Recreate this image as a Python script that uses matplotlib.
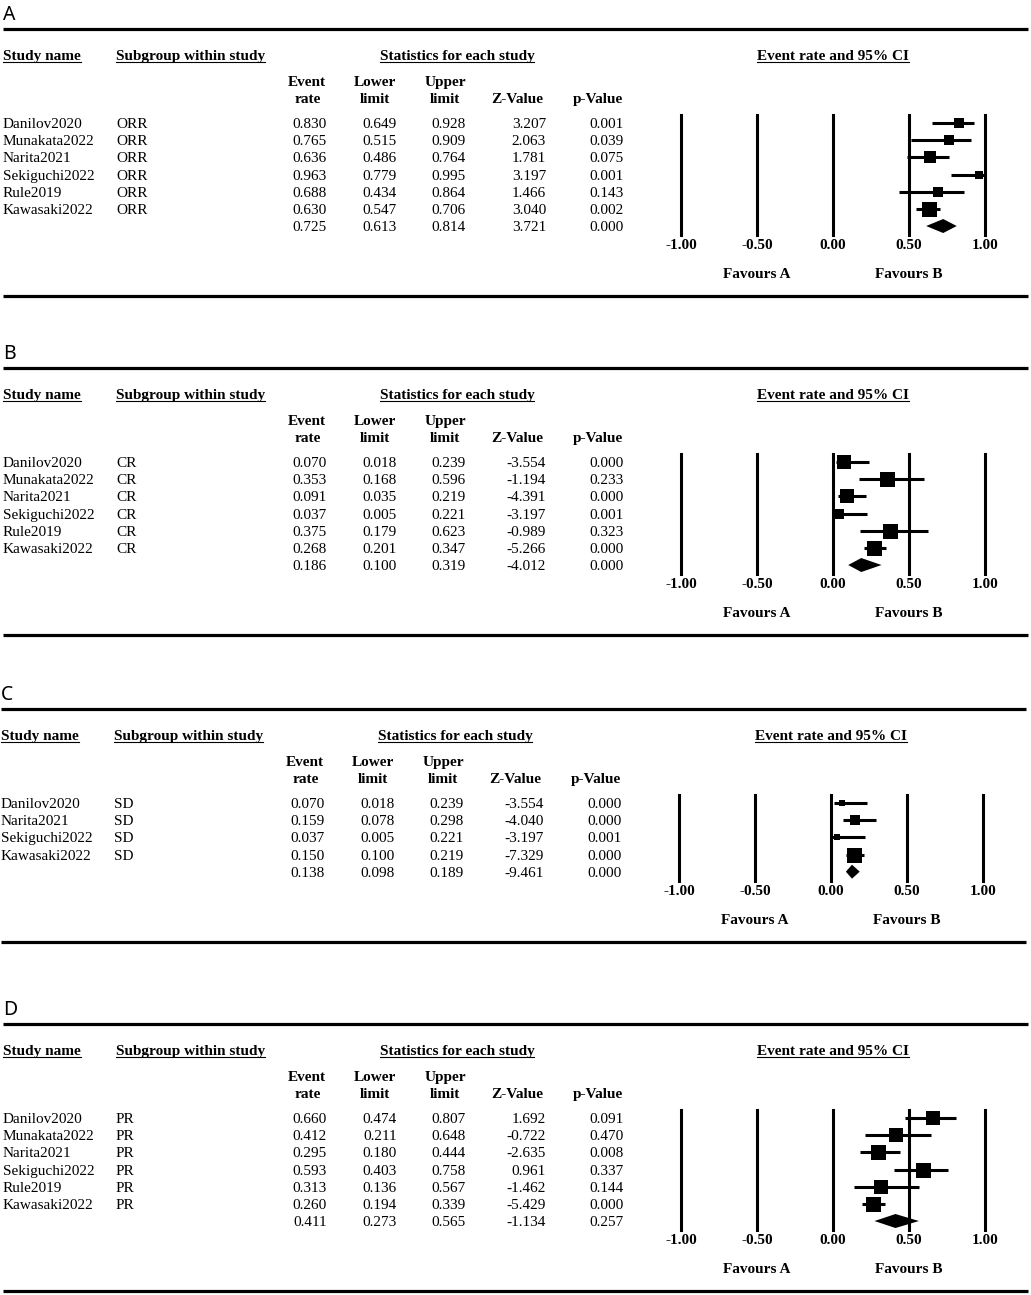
import matplotlib
matplotlib.use("Agg")
import matplotlib.pyplot as plt
import numpy as np

W, H = 1031, 1295

# ---- data --------------------------------------------------------------
panel_letters = ["A", "B", "C", "D"]
outcomes = ["ORR", "CR", "SD", "PR"]

studies_A = ["Danilov2020", "Munakata2022", "Narita2021", "Sekiguchi2022", "Rule2019", "Kawasaki2022"]
rate_A = [0.830, 0.765, 0.636, 0.963, 0.688, 0.630, 0.725]
lower_A = [0.649, 0.515, 0.486, 0.779, 0.434, 0.547, 0.613]
upper_A = [0.928, 0.909, 0.764, 0.995, 0.864, 0.706, 0.814]
z_A = [3.207, 2.063, 1.781, 3.197, 1.466, 3.040, 3.721]
p_A = [0.001, 0.039, 0.075, 0.001, 0.143, 0.002, 0.000]
weight_A = [13.5, 13.5, 22.7, 6.6, 13.5, 30.3]

studies_B = ["Danilov2020", "Munakata2022", "Narita2021", "Sekiguchi2022", "Rule2019", "Kawasaki2022"]
rate_B = [0.070, 0.353, 0.091, 0.037, 0.375, 0.268, 0.186]
lower_B = [0.018, 0.168, 0.035, 0.005, 0.179, 0.201, 0.100]
upper_B = [0.239, 0.596, 0.219, 0.221, 0.623, 0.347, 0.319]
z_B = [-3.554, -1.194, -4.391, -3.197, -0.989, -5.266, -4.012]
p_B = [0.000, 0.233, 0.000, 0.001, 0.323, 0.000, 0.000]
weight_B = [16.4, 19.3, 16.4, 9.2, 19.3, 19.3]

studies_C = ["Danilov2020", "Narita2021", "Sekiguchi2022", "Kawasaki2022"]
rate_C = [0.070, 0.159, 0.037, 0.150, 0.138]
lower_C = [0.018, 0.078, 0.005, 0.100, 0.098]
upper_C = [0.239, 0.298, 0.221, 0.219, 0.189]
z_C = [-3.554, -4.040, -3.197, -7.329, -9.461]
p_C = [0.000, 0.000, 0.001, 0.000, 0.000]
weight_C = [7.6, 24.8, 7.6, 59.9]

studies_D = ["Danilov2020", "Munakata2022", "Narita2021", "Sekiguchi2022", "Rule2019", "Kawasaki2022"]
rate_D = [0.660, 0.412, 0.295, 0.593, 0.313, 0.260, 0.411]
lower_D = [0.474, 0.211, 0.180, 0.403, 0.136, 0.194, 0.273]
upper_D = [0.807, 0.648, 0.444, 0.758, 0.567, 0.339, 0.565]
z_D = [1.692, -0.722, -2.635, 0.961, -1.462, -5.429, -1.134]
p_D = [0.091, 0.470, 0.008, 0.337, 0.144, 0.000, 0.257]
weight_D = [15.3, 15.3, 18.0, 18.0, 15.3, 18.0]

xticks = [-1.0, -0.5, 0.0, 0.5, 1.0]
xtick_labels = ["-1.00", "-0.50", "0.00", "0.50", "1.00"]

panels = [
    (studies_A, rate_A, lower_A, upper_A, z_A, p_A, weight_A),
    (studies_B, rate_B, lower_B, upper_B, z_B, p_B, weight_B),
    (studies_C, rate_C, lower_C, upper_C, z_C, p_C, weight_C),
    (studies_D, rate_D, lower_D, upper_D, z_D, p_D, weight_D),
]

# layout (pixels)
first_row = [123, 462, 803, 1118]
shift = [0, 0, -2, 0]
dy = 17.17
SERIF = "Liberation Serif"

fig = plt.figure(figsize=(W / 100, H / 100), dpi=100)
bg = fig.add_axes([0, 0, 1, 1])
bg.set_xlim(0, W)
bg.set_ylim(H, 0)
bg.axis("off")

underlined = []


def txt(x, y, s, ha="left", bold=False):
    # y is the visual centre of digits/capitals
    return bg.text(x, y + 5, s, ha=ha, va="baseline", fontsize=11,
                   fontweight="bold" if bold else "normal", family=SERIF)


for k, (studies, rate, lo, hi, z, p, w) in enumerate(panels):
    y0 = first_row[k]
    dx = shift[k]
    n = len(rate)
    ylast = y0 + (n - 1) * dy

    # panel letter and rules
    bg.text(3 + dx, y0 - 110 + 7, panel_letters[k], ha="left", va="baseline",
            fontsize=14, family="Noto Sans")
    bg.plot([3 + dx, 1028 + dx], [y0 - 94, y0 - 94], color="black", lw=2.3, solid_capstyle="butt")
    bg.plot([3 + dx, 1028 + dx], [ylast + 70, ylast + 70], color="black", lw=2.3, solid_capstyle="butt")

    # headers
    yh = y0 - 68
    underlined.append(txt(3 + dx, yh, "Study name", bold=True))
    underlined.append(txt(116 + dx, yh, "Subgroup within study", bold=True))
    underlined.append(txt(457 + dx, yh, "Statistics for each study", ha="center", bold=True))
    underlined.append(txt(833 + dx, yh, "Event rate and 95% CI", ha="center", bold=True))

    txt(307 + dx, y0 - 42, "Event", ha="center", bold=True)
    txt(308 + dx, y0 - 25, "rate", ha="center", bold=True)
    txt(375 + dx, y0 - 42, "Lower", ha="center", bold=True)
    txt(375 + dx, y0 - 25, "limit", ha="center", bold=True)
    txt(445 + dx, y0 - 42, "Upper", ha="center", bold=True)
    txt(445 + dx, y0 - 25, "limit", ha="center", bold=True)
    txt(517 + dx, y0 - 25, "Z-Value", ha="center", bold=True)
    txt(598 + dx, y0 - 25, "p-Value", ha="center", bold=True)

    # table rows
    for i in range(n):
        yr = y0 + i * dy
        if i < len(studies):
            txt(3 + dx, yr, studies[i])
            txt(116 + dx, yr, outcomes[k])
        txt(327 + dx, yr, f"{rate[i]:.3f}", ha="right")
        txt(397 + dx, yr, f"{lo[i]:.3f}", ha="right")
        txt(466 + dx, yr, f"{hi[i]:.3f}", ha="right")
        txt(546 + dx, yr, f"{z[i]:.3f}", ha="right")
        txt(624 + dx, yr, f"{p[i]:.3f}", ha="right")

    txt(757 + dx, ylast + 47, "Favours A", ha="center", bold=True)
    txt(909 + dx, ylast + 47, "Favours B", ha="center", bold=True)

    # forest plot axes
    top = y0 - 8
    bottom = ylast + 9
    xl, xr = 681 + dx, 985 + dx
    ax = fig.add_axes([xl / W, 1 - bottom / H, (xr - xl) / W, (bottom - top) / H])
    ax.set_xlim(-1, 1)
    ax.set_ylim((n - 1) + 9 / dy, -8 / dy)
    ax.patch.set_alpha(0)
    for s in ax.spines.values():
        s.set_visible(False)
    ax.set_yticks([])
    ax.set_xticks(xticks)
    ax.set_xticklabels(xtick_labels, fontsize=11, fontweight="bold", family=SERIF)
    ax.tick_params(axis="x", length=0, pad=3)
    for v in xticks:
        ax.axvline(v, color="black", lw=2.2, clip_on=False)

    wmax = max(w)
    for i in range(n - 1):
        ax.hlines(i, lo[i], hi[i], color="black", lw=2.2, clip_on=False)
        side = 15 * np.sqrt(w[i] / wmax)
        ax.plot(rate[i], i, marker="s", ms=side * 0.72, color="black", mew=0, clip_on=False)
    ip = n - 1
    h = 7 / dy
    ax.fill([lo[ip], rate[ip], hi[ip], rate[ip]], [ip, ip - h, ip, ip + h],
            color="black", lw=0, clip_on=False)

# underline the column headers
fig.canvas.draw()
renderer = fig.canvas.get_renderer()
inv = bg.transData.inverted()
for t in underlined:
    bb = t.get_window_extent(renderer)
    (x0, _), (x1, _) = inv.transform([(bb.x0, bb.y0), (bb.x1, bb.y1)])
    yb = t.get_position()[1] + 2
    bg.plot([x0, x1], [yb, yb], color="black", lw=0.8)

fig.savefig("out.png", dpi=100)
